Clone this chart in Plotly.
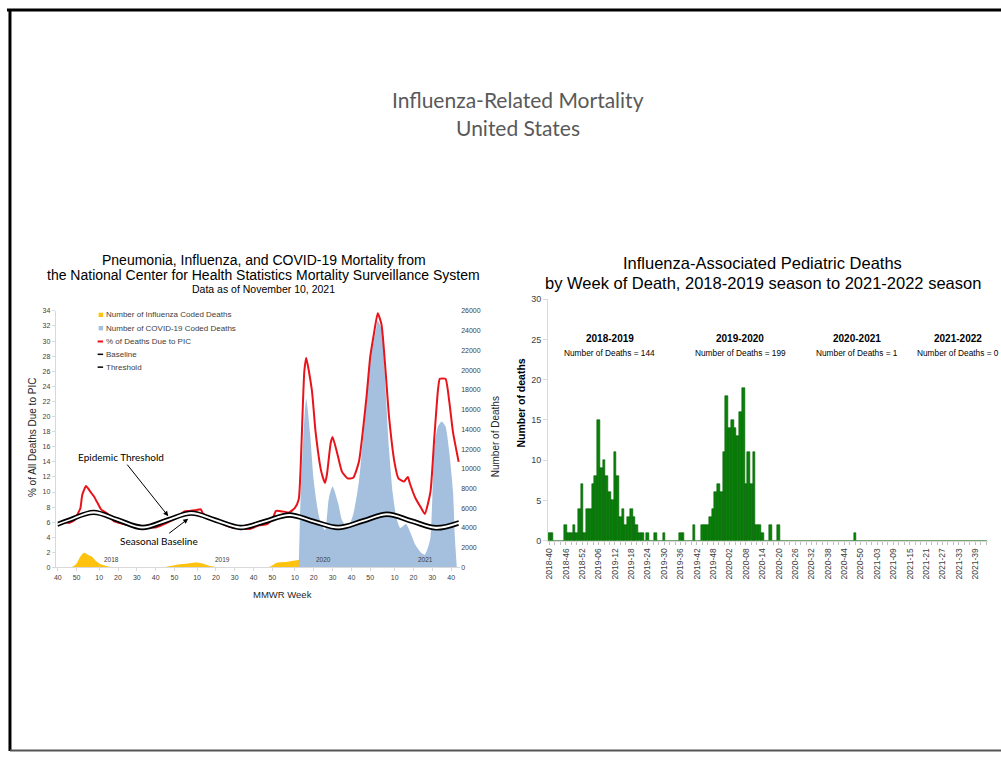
import plotly.graph_objects as go

# ---------------- Left chart data (week index = weeks since MMWR 2017-40) ----------------
mmwr_tickvals = [0, 10, 22, 32, 42, 52, 62, 74, 84, 94, 104, 114, 126, 136, 146, 156, 166, 179, 189, 199, 209]
mmwr_ticktext = ["40", "50", "10", "20", "30", "40", "50", "10", "20", "30", "40", "50",
                 "10", "20", "30", "40", "50", "10", "20", "30", "40"]

pic_weeks = [0, 3, 6, 9, 10, 12, 13, 15, 16, 18, 19, 21, 23, 24, 27, 30, 33, 37, 42, 47, 52, 58, 63, 67,
             70, 73, 76, 77, 81, 86, 91, 97, 102, 107, 111, 114, 116, 120, 123, 126, 128, 129, 130, 131,
             132, 135, 137, 140, 142, 143, 145, 146, 148, 149, 151, 154, 157, 160, 164, 166, 168, 170,
             172, 174, 176, 179, 181, 184, 186, 187, 190, 193, 195, 198, 200, 202, 203, 206, 208, 210, 213]
pic_pct = [5.75, 6.1, 5.9, 6.3, 6.8, 7.85, 9.6, 10.8, 10.5, 9.8, 9.5, 8.6, 7.7, 7.5, 7.0, 6.1, 5.9, 5.65,
           5.4, 5.3, 5.3, 5.9, 6.6, 7.4, 7.5, 7.6, 7.7, 7.2, 6.5, 6.0, 5.4, 5.2, 5.1, 5.6, 5.7, 6.4, 7.5,
           7.4, 7.3, 7.9, 9.0, 13.0, 20.0, 26.0, 27.8, 23.5, 17.9, 12.7, 11.2, 12.3, 16.5, 17.3, 15.6,
           14.6, 12.7, 11.8, 11.9, 14.0, 22.5, 27.9, 31.0, 33.7, 32.2, 26.6, 20.0, 13.8, 11.8, 11.4,
           12.0, 11.2, 9.2, 7.9, 7.1, 10.0, 17.0, 23.5, 25.0, 25.0, 22.0, 17.9, 14.0]

covid_weeks = [128, 129, 131, 132, 134, 136, 139, 142, 144, 146, 149, 151, 154, 157, 160, 164, 166, 169,
               170, 172, 173, 174, 176, 178, 180, 182, 185, 187, 190, 193, 195, 197, 198, 199, 200, 202,
               204, 206, 208, 210, 211, 212]
covid_deaths = [0, 7000, 15000, 17100, 13700, 8800, 5000, 3800, 7000, 8200, 6500, 4800, 4000, 5400, 8700,
                17000, 21300, 24000, 25000, 24200, 23300, 18700, 12000, 7500, 5000, 4000, 4400, 3700,
                2300, 1500, 1300, 2200, 3000, 7000, 12000, 14300, 14800, 14300, 11700, 7700, 3000, 0]

flu_weeks = [0, 6, 8, 10, 12, 14, 16, 18, 20, 22, 24, 27, 32, 55, 60, 64, 68, 72, 74, 77, 80, 84, 88,
             110, 113, 116, 118, 122, 126, 128, 130, 133, 135, 212]
flu_deaths = [0, 0, 100, 400, 1100, 1500, 1300, 1100, 700, 400, 250, 100, 0, 0, 150, 300, 380, 480, 500,
              400, 200, 50, 0, 0, 100, 450, 520, 580, 700, 750, 600, 300, 0, 0]

base_weeks = [0, 6, 19, 32, 45, 58, 71, 84, 97, 110, 123, 136, 149, 162, 175, 188, 201, 213]
baseline = [5.5, 6.05, 7.05, 6.05, 5.05, 6.0, 6.95, 6.0, 5.05, 5.85, 6.7, 5.85, 5.05, 5.9, 6.8, 5.9, 5.0, 5.65]
threshold = [5.95, 6.5, 7.55, 6.55, 5.55, 6.5, 7.45, 6.5, 5.55, 6.35, 7.2, 6.35, 5.55, 6.4, 7.3, 6.4, 5.5, 6.15]

year_labels = ["2018", "2019", "2020", "2021"]
year_label_weeks = [28.6, 87.3, 141.3, 195.2]

legend_names = ["Number of Influenza Coded Deaths", "Number of COVID-19 Coded Deaths",
                "% of Deaths Due to PIC", "Baseline", "Threshold"]

# ---------------- Right chart data ----------------
ped_weeks = ([f"2018-{w:02d}" for w in range(40, 53)] + [f"2019-{w:02d}" for w in range(1, 53)] +
             [f"2020-{w:02d}" for w in range(1, 54)] + [f"2021-{w:02d}" for w in range(1, 44)])
ped_deaths = [1, 1, 0, 0, 0, 0, 2, 1, 1, 2,
              1, 4, 7, 1, 4, 4, 7, 8, 15, 9,
              10, 8, 6, 5, 11, 8, 3, 4, 2, 3,
              4, 3, 2, 1, 1, 0, 1, 0, 0, 1,
              0, 0, 1, 0, 0, 0, 0, 0, 1, 1,
              0, 0, 0, 2, 0, 0, 2, 2, 2, 3,
              4, 6, 7, 6, 11, 18, 14, 15, 14, 13,
              16, 19, 7, 11, 7, 11, 2, 2, 1, 0,
              0, 2, 0, 0, 2, 0, 0, 0, 0, 0,
              0, 0, 0, 0, 0, 0, 0, 0, 0, 0,
              0, 0, 0, 0, 0, 0, 0, 0, 0, 0,
              0, 0, 1, 0, 0, 0, 0, 0, 0, 0,
              0, 0, 0, 0, 0, 0, 0, 0, 0, 0,
              0, 0, 0, 0, 0, 0, 0, 0, 0, 0,
              0, 0, 0, 0, 0, 0, 0, 0, 0, 0,
              0, 0, 0, 0, 0, 0, 0, 0, 0, 0,
              0]
seasons = ["2018-2019", "2019-2020", "2020-2021", "2021-2022"]
season_totals = [144, 199, 1, 0]

# ---------------- helpers (pixel -> paper) ----------------
W, H = 1001, 757
def px(x):
    return x / W
def py(y):
    return 1 - y / H

ARIAL = "Liberation Sans, Arial, sans-serif"
CAL = "Lato, Carlito, Calibri, sans-serif"

YELLOW = "#ffc20e"
BLUE = "#a4c0de"
RED = "#e8141b"

fig = go.Figure()

fig.add_trace(go.Scatter(x=flu_weeks, y=flu_deaths, xaxis="x", yaxis="y", mode="lines",
                         line=dict(width=0, shape="spline", smoothing=0.8), fill="tozeroy",
                         fillcolor=YELLOW, name=legend_names[0], showlegend=False))
fig.add_trace(go.Scatter(x=covid_weeks, y=covid_deaths, xaxis="x", yaxis="y", mode="lines",
                         line=dict(width=0, shape="spline", smoothing=0.6), fill="tozeroy",
                         fillcolor=BLUE, name=legend_names[1], showlegend=False))
fig.add_trace(go.Scatter(x=pic_weeks, y=pic_pct, xaxis="x", yaxis="y2", mode="lines",
                         line=dict(color=RED, width=2, shape="spline", smoothing=0.5),
                         name=legend_names[2], showlegend=False))
fig.add_trace(go.Scatter(x=base_weeks, y=baseline, xaxis="x", yaxis="y2", mode="lines",
                         line=dict(width=0, shape="spline", color="white"), showlegend=False,
                         hoverinfo="skip"))
fig.add_trace(go.Scatter(x=base_weeks, y=threshold, xaxis="x", yaxis="y2", mode="lines",
                         line=dict(width=0, shape="spline", color="white"), fill="tonexty",
                         fillcolor="white", showlegend=False, hoverinfo="skip"))
fig.add_trace(go.Scatter(x=base_weeks, y=baseline, xaxis="x", yaxis="y2", mode="lines",
                         line=dict(color="black", width=1.7, shape="spline"), name=legend_names[3],
                         showlegend=False))
fig.add_trace(go.Scatter(x=base_weeks, y=threshold, xaxis="x", yaxis="y2", mode="lines",
                         line=dict(color="black", width=1.7, shape="spline"), name=legend_names[4],
                         showlegend=False))

fig.add_trace(go.Bar(x=ped_weeks, y=ped_deaths, xaxis="x2", yaxis="y3",
                     marker=dict(color="#0a820a", line=dict(color="#045e04", width=0.6)),
                     showlegend=False))

ped_tickvals = ped_weeks[::2]
ped_ticktext = [w if i % 6 == 0 else "" for i, w in enumerate(ped_weeks) if i % 2 == 0]

axis_gray = "#d9d9d9"
fig.update_layout(
    width=W, height=H, margin=dict(l=0, r=0, t=0, b=0),
    paper_bgcolor="white", plot_bgcolor="white",
    bargap=0, showlegend=False,
    xaxis=dict(domain=[px(52), px(458)], range=[-1.06, 213.8], tickvals=mmwr_tickvals,
               ticktext=mmwr_ticktext, showgrid=False, zeroline=False, showline=True,
               linecolor=axis_gray, ticks="outside", ticklen=3, tickcolor=axis_gray,
               tickfont=dict(family=ARIAL, size=7, color="#404040"), anchor="y"),
    yaxis=dict(domain=[py(570), py(310)], range=[0, 26000], dtick=2000, side="right",
               tickformat="d", showgrid=False, zeroline=False, showline=False, ticks="",
               tickfont=dict(family=ARIAL, size=7, color="#404040"), anchor="x"),
    yaxis2=dict(range=[0, 34], dtick=2, overlaying="y", side="left", anchor="x",
                showgrid=False, zeroline=False, showline=True, linecolor=axis_gray,
                ticks="outside", ticklen=3, tickcolor=axis_gray,
                tickfont=dict(family=ARIAL, size=7, color="#404040")),
    xaxis2=dict(domain=[px(546.3), px(987.5)], type="category", range=[-0.5, len(ped_weeks) - 0.5],
                tickvals=ped_tickvals, ticktext=ped_ticktext, tickangle=-90, showgrid=False,
                zeroline=False, showline=True, linecolor=axis_gray, ticks="outside", ticklen=3,
                tickcolor="#bfbfbf", tickfont=dict(family=ARIAL, size=8.5, color="#404040"),
                anchor="y3"),
    yaxis3=dict(domain=[py(543), py(298)], range=[0, 30], dtick=5, showgrid=False, zeroline=False,
                showline=True, linecolor=axis_gray, ticks="outside", ticklen=4, tickcolor=axis_gray,
                tickfont=dict(family=ARIAL, size=9, color="#404040"), anchor="x2"),
)

ann = []
def text(x, y, s, size, family=ARIAL, color="#000000", angle=0, xanchor="center"):
    ann.append(dict(x=px(x), y=py(y), xref="paper", yref="paper", text=s, showarrow=False,
                    xanchor=xanchor, yanchor="middle", textangle=angle,
                    font=dict(family=family, size=size, color=color)))

# main slide title
text(516, 96, "Influenza-Related Mortality", 21, CAL, "#595959")
text(516, 124, "United States", 21, CAL, "#595959")
# left chart titles
text(261, 258, "Pneumonia, Influenza, and COVID-19 Mortality from", 14)
text(261, 274, "the National Center for Health Statistics Mortality Surveillance System", 14)
text(261, 288, "Data as of November 10, 2021", 10.5)
text(28, 438, "% of All Deaths Due to PIC", 10, angle=-90, color="#262626")
text(493, 438, "Number of Deaths", 10, angle=-90, color="#262626")
text(280, 597, "MMWR Week", 9.5, color="#262626")
# right chart titles
text(762, 261, "Influenza-Associated Pediatric Deaths", 16.5)
text(762, 282, "by Week of Death, 2018-2019 season to 2021-2022 season", 16.5)
text(519, 403, "<b>Number of deaths</b>", 10.5, angle=-90)
season_x = [608, 739, 856, 958]
for sx, s, n in zip(season_x, seasons, season_totals):
    text(sx, 338, f"<b>{s}</b>", 10)
    text(sx, 353, f"Number of Deaths = {n}", 8.3)

# manual legend (left chart)
legend_y = [314, 327.5, 341, 354, 367]
legend_colors = [YELLOW, BLUE, RED, "black", "black"]
shapes = []
for i, (nm, ly, col) in enumerate(zip(legend_names, legend_y, legend_colors)):
    text(100, ly, nm, 8, color="#404040", xanchor="left")
    if i < 2:
        shapes.append(dict(type="rect", xref="paper", yref="paper", x0=px(95), x1=px(99.5),
                           y0=py(ly + 2.2), y1=py(ly - 2.2), fillcolor=col, line=dict(width=0)))
    else:
        shapes.append(dict(type="line", xref="paper", yref="paper", x0=px(94), x1=px(99.5),
                           y0=py(ly), y1=py(ly), line=dict(color=col, width=2 if i == 2 else 1.5)))

# year labels on left chart
for yl, yw in zip(year_labels, year_label_weeks):
    ann.append(dict(x=yw, y=1.05, xref="x", yref="y2", text=yl, showarrow=False,
                    font=dict(family=ARIAL, size=6.5, color="#404040")))

# arrows
ann.append(dict(x=58.7, y=6.8, xref="x", yref="y2", text="Epidemic Threshold", showarrow=True,
                ax=-47, ay=-59, arrowhead=2, arrowsize=1, arrowwidth=1, arrowcolor="black",
                font=dict(family=CAL, size=10, color="black")))
ann.append(dict(x=69.3, y=6.45, xref="x", yref="y2", text="Seasonal Baseline", showarrow=True,
                ax=-29, ay=22, arrowhead=2, arrowsize=1, arrowwidth=1, arrowcolor="black",
                font=dict(family=CAL, size=10, color="black")))

fig.update_layout(annotations=ann)

# slide border
shapes += [
    dict(type="line", xref="paper", yref="paper", x0=px(3), x1=1, y0=py(5), y1=py(5),
         line=dict(color="black", width=3)),
    dict(type="line", xref="paper", yref="paper", x0=px(6), x1=px(6), y0=py(4), y1=py(756),
         line=dict(color="black", width=3)),
    dict(type="line", xref="paper", yref="paper", x0=px(6), x1=1, y0=py(755.5), y1=py(755.5),
         line=dict(color="#555555", width=2)),
]
fig.update_layout(shapes=shapes)

post = ("document.documentElement.style.margin='0px';document.documentElement.style.padding='0px';"
        "document.documentElement.style.overflow='hidden';"
        "document.body.style.margin='0px';document.body.style.padding='0px';"
        "document.body.style.overflow='hidden';"
        "var d=document.getElementById('{plot_id}');d.style.position='absolute';"
        "d.style.left='0px';d.style.top='0px';")

fig.write_html("out.html", config={"displayModeBar": False}, post_script=post)
